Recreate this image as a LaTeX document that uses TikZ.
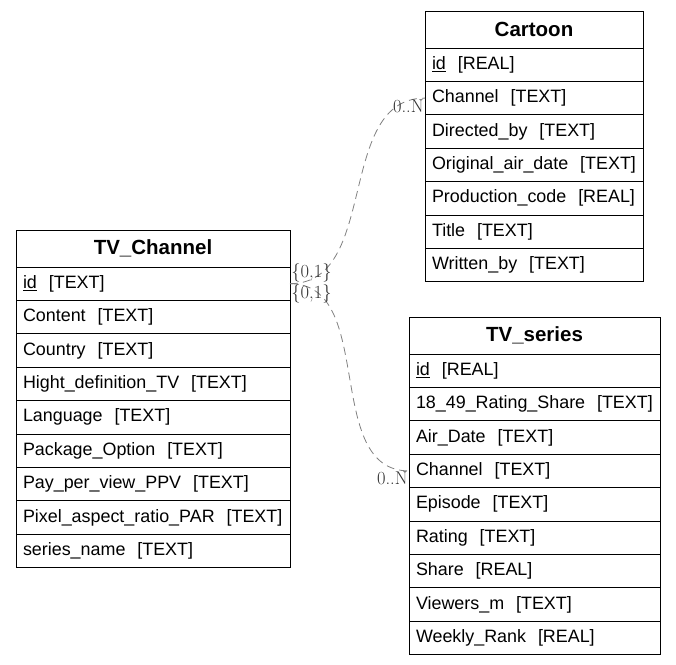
\documentclass[tikz,border=0pt]{standalone}
\usepackage{fontspec}
\usetikzlibrary{positioning}
\newfontfamily\erfont{Liberation Sans}

\tikzset{
  entity/.style={draw, line width=0.8pt, outer sep=0pt, minimum width=#1, minimum height=37pt, inner sep=0pt,
    font=\erfont\bfseries\fontsize{20.5}{24}\selectfont, anchor=north west},
  attr/.style={draw, line width=0.8pt, outer sep=0pt, text width=#1, minimum height=33.4pt, inner xsep=7pt, inner ysep=0pt,
    align=left, font=\erfont\fontsize{17.9}{20}\selectfont},
  rel/.style={draw=gray, line width=0.8pt, dash pattern=on 8pt off 5pt},
  card/.style={font=\fontsize{18.5}{20}\selectfont, inner sep=1pt, text=black!80}
}

\begin{document}
\begin{tikzpicture}[x=1pt, y=-1pt]
  \useasboundingbox (0,0) rectangle (676,664);

  % Cartoon
  \node[entity=218pt] (cart0) at (425,11) {Cartoon};
  \foreach \txt [count=\i, evaluate=\i as \j using int(\i-1)] in
    {\underline{id}\ \ [REAL], Channel\ \ [TEXT], Directed\_by\ \ [TEXT], Original\_air\_date\ \ [TEXT],
     Production\_code\ \ [REAL], Title\ \ [TEXT], Written\_by\ \ [TEXT]}
    \node[attr=204pt, below=0pt of cart\j] (cart\i) {\txt};

  % TV_Channel
  \node[entity=274pt] (chan0) at (16,230) {TV\_Channel};
  \foreach \txt [count=\i, evaluate=\i as \j using int(\i-1)] in
    {\underline{id}\ \ [TEXT], Content\ \ [TEXT], Country\ \ [TEXT], Hight\_definition\_TV\ \ [TEXT],
     Language\ \ [TEXT], Package\_Option\ \ [TEXT], Pay\_per\_view\_PPV\ \ [TEXT],
     Pixel\_aspect\_ratio\_PAR\ \ [TEXT], series\_name\ \ [TEXT]}
    \node[attr=260pt, below=0pt of chan\j] (chan\i) {\txt};

  % TV_series
  \node[entity=251pt] (ser0) at (409,317) {TV\_series};
  \foreach \txt [count=\i, evaluate=\i as \j using int(\i-1)] in
    {\underline{id}\ \ [REAL], 18\_49\_Rating\_Share\ \ [TEXT], Air\_Date\ \ [TEXT], Channel\ \ [TEXT],
     Episode\ \ [TEXT], Rating\ \ [TEXT], Share\ \ [REAL], Viewers\_m\ \ [TEXT], Weekly\_Rank\ \ [REAL]}
    \node[attr=237pt, below=0pt of ser\j] (ser\i) {\txt};

  % relations
  \draw[rel] (chan1.east) to[out=0, in=180]
    node[card, at start, anchor=south west] {\{0,1\}}
    node[card, at end, anchor=north east] {0..N} (cart2.west);
  \draw[rel] (chan1.east) to[out=0, in=180]
    node[card, at start, anchor=north west] {\{0,1\}}
    node[card, at end, anchor=north east] {0..N} (ser4.west);
\end{tikzpicture}
\end{document}
